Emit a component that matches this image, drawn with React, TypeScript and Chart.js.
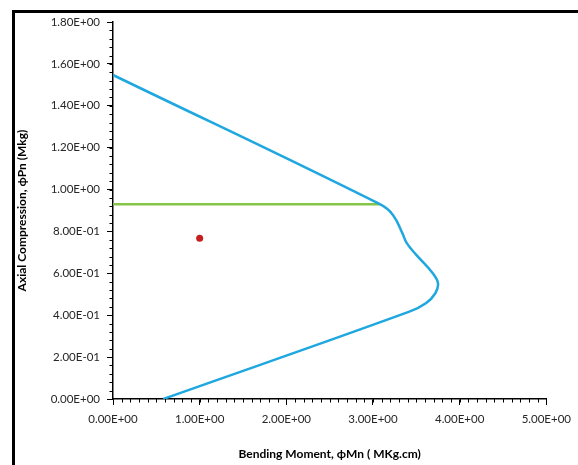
import React, { useEffect, useRef } from "react";
import { Chart, registerables } from "chart.js";

Chart.register(...registerables);

// Interaction curve (Bending moment M, Axial compression P)
const curveM = [0, 3.08, 3.23, 3.34, 3.39, 3.5, 3.69, 3.75, 3.72, 3.61, 3.42, 0.58];
const curveP = [1.547, 0.93, 0.879, 0.791, 0.744, 0.688, 0.6, 0.552, 0.505, 0.457, 0.417, 0];
// Horizontal cut-off line
const capM = [0, 3.08];
const capP = [0.93, 0.93];
// Design point
const pointM = [1.0];
const pointP = [0.767];

const xTitle = "Bending Moment, \u03D5Mn ( MKg.cm)";
const yTitle = "Axial Compression, \u03D5Pn (Mkg)";

const X_MIN = 0, X_MAX = 5, X_STEP = 1, X_MINOR = 0.1;
const Y_MIN = 0, Y_MAX = 1.8, Y_STEP = 0.2, Y_MINOR = 0.04;

const fmt = (v: number) => {
  const s = Number(v).toExponential(2);
  const [m, e] = s.split("e");
  const n = parseInt(e, 10);
  return m + "E" + (n < 0 ? "-" : "+") + String(Math.abs(n)).padStart(2, "0");
};

const zip = (xs: number[], ys: number[]) => xs.map((x, i) => ({ x, y: ys[i] }));

const minorTicks = {
  id: "minorTicks",
  afterDraw(chart: any) {
    const { ctx } = chart;
    const xs = chart.scales.x;
    const ys = chart.scales.y;
    ctx.save();
    ctx.strokeStyle = "#000";
    ctx.lineWidth = 1;
    const nx = Math.round((X_MAX - X_MIN) / X_MINOR);
    for (let i = 0; i <= nx; i++) {
      const px = Math.round(xs.getPixelForValue(X_MIN + i * X_MINOR)) + 0.5;
      ctx.beginPath();
      ctx.moveTo(px, ys.bottom);
      ctx.lineTo(px, ys.bottom + 3.5);
      ctx.stroke();
    }
    const ny = Math.round((Y_MAX - Y_MIN) / Y_MINOR);
    for (let i = 0; i <= ny; i++) {
      const py = Math.round(ys.getPixelForValue(Y_MIN + i * Y_MINOR)) + 0.5;
      ctx.beginPath();
      ctx.moveTo(xs.left, py);
      ctx.lineTo(xs.left - 3.5, py);
      ctx.stroke();
    }
    ctx.restore();
  },
};

export default function App() {
  const ref = useRef<HTMLCanvasElement | null>(null);
  useEffect(() => {
    if (!ref.current) return;
    const tickFont = { family: "Lato, 'Open Sans', sans-serif", size: 11.5 };
    const titleFont = { family: "Lato, 'Open Sans', sans-serif", size: 12, weight: "bold" as const };
    const chart = new Chart(ref.current, {
      type: "scatter",
      data: {
        datasets: [
          {
            data: zip(curveM, curveP),
            showLine: true,
            borderColor: "#1FA7DF",
            borderWidth: 2.5,
            pointRadius: 0,
            tension: 0.4,
            fill: false,
          },
          {
            data: zip(capM, capP),
            showLine: true,
            borderColor: "#84C446",
            borderWidth: 2.5,
            pointRadius: 0,
            fill: false,
          },
          {
            data: zip(pointM, pointP),
            showLine: false,
            pointRadius: 3.5,
            pointBackgroundColor: "#C41E1E",
            pointBorderColor: "#C41E1E",
            pointBorderWidth: 0,
          },
        ],
      },
      options: {
        responsive: false,
        maintainAspectRatio: false,
        animation: false,
        devicePixelRatio: 1,
        layout: { padding: { left: 0, top: 22, right: 26, bottom: 0 } },
        plugins: { legend: { display: false }, tooltip: { enabled: false } },
        scales: {
          x: {
            type: "linear",
            min: X_MIN,
            max: X_MAX,
            ticks: {
              stepSize: X_STEP,
              callback: (v: any) => fmt(v),
              color: "#262626",
              font: tickFont,
              padding: 7,
              maxRotation: 0,
            },
            grid: { drawOnChartArea: false, tickLength: 6, tickColor: "#000", tickWidth: 1 },
            border: { color: "#000", width: 1.5 },
            title: { display: true, text: xTitle, color: "#000", font: titleFont, padding: { top: 0, bottom: 4 } },
            afterFit: (s: any) => {
              s.height = 66;
            },
          },
          y: {
            type: "linear",
            min: Y_MIN,
            max: Y_MAX,
            ticks: {
              stepSize: Y_STEP,
              callback: (v: any) => fmt(v),
              color: "#262626",
              font: tickFont,
              padding: 7,
            },
            grid: { drawOnChartArea: false, tickLength: 6, tickColor: "#000", tickWidth: 1 },
            border: { color: "#000", width: 1.5 },
            title: { display: true, text: yTitle, color: "#000", font: titleFont, padding: { top: 15, bottom: 0 } },
            afterFit: (s: any) => {
              s.width = 113;
            },
          },
        },
      },
      plugins: [minorTicks],
    } as any);
    return () => chart.destroy();
  }, []);

  return (
    <div style={{ position: "fixed", left: 0, top: 0, width: 578, height: 465, overflow: "hidden", background: "#fff" }}>
      <div
        style={{
          position: "absolute",
          left: 12,
          top: 10,
          width: 700,
          height: 600,
          borderLeft: "3px solid #000",
          borderTop: "3px solid #000",
          boxSizing: "border-box",
        }}
      />
      <canvas ref={ref} width={578} height={465} style={{ position: "absolute", left: 0, top: 0 }} />
    </div>
  );
}
